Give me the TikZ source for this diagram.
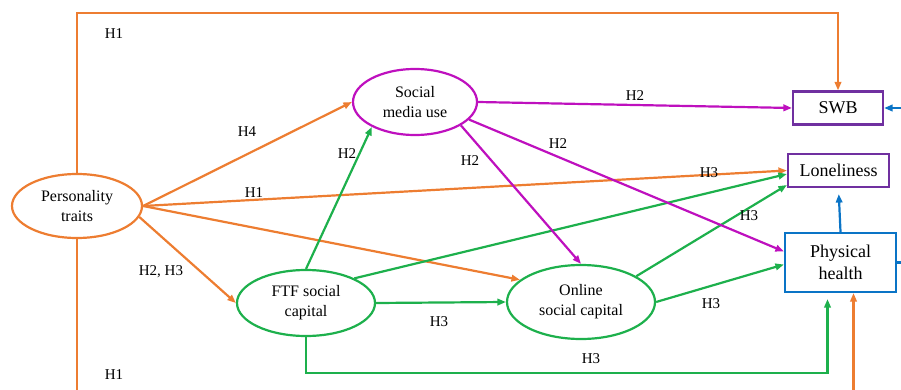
\documentclass[tikz,border=0pt]{standalone}
\usepackage{fontspec}
\setmainfont{Liberation Serif}
\usetikzlibrary{shapes.geometric,arrows.meta,calc}
\definecolor{traitorange}{HTML}{ED7D31}
\definecolor{capgreen}{HTML}{1DB04C}
\definecolor{smupurple}{HTML}{BE10BE}
\definecolor{boxpurple}{HTML}{7030A0}
\definecolor{healthblue}{HTML}{0A74C6}
\begin{document}
\begin{tikzpicture}[x=1pt,y=-1pt,
  link/.style={line width=2.2pt, -{Triangle[length=8.5pt,width=6.5pt]}},
  oval/.style={ellipse, draw, line width=2.2pt, inner sep=0pt, align=center,
    font=\fontsize{16}{20}\selectfont},
  outcome/.style={rectangle, draw, line width=2.2pt, inner sep=0pt, align=center,
    font=\fontsize{18}{22}\selectfont},
  hyp/.style={font=\fontsize{15}{18}\selectfont, inner sep=0pt}]
\useasboundingbox (0,0) rectangle (901,390);

% constructs
\node[oval, draw=traitorange, minimum width=130pt, minimum height=64pt] (pers) at (77,206) {Personality\\traits};
\node[oval, draw=smupurple, minimum width=124pt, minimum height=66pt] (smu) at (415,102) {Social\\media use};
\node[oval, draw=capgreen, minimum width=138pt, minimum height=66pt] (ftf) at (306,303) {FTF social\\capital};
\node[oval, draw=capgreen, minimum width=148pt, minimum height=74pt] (onl) at (581,302) {Online\\social capital};
\node[outcome, draw=boxpurple, minimum width=90pt, minimum height=33pt] (swb) at (838,108) {SWB};
\node[outcome, draw=boxpurple, minimum width=101pt, minimum height=33pt] (lone) at (838.5,170.5) {Loneliness};
\node[outcome, draw=healthblue, minimum width=111pt, minimum height=59pt] (ph) at (840.5,262.5) {Physical\\health};

% personality traits paths
\draw[link, traitorange] (pers.north) -- ++(0,-160) -| (swb.north);
\draw[link, traitorange] (pers.south) -- ++(0,200) -| ([xshift=13pt]ph.south);
\draw[link, traitorange] (pers.east) -- (smu.west);
\draw[link, traitorange] (pers.east) -- (lone.west);
\draw[link, traitorange] (pers.east) -- (onl.160);
\draw[link, traitorange] (pers.-10) -- (ftf.west);

% social capital paths
\draw[link, capgreen] (ftf.north) -- (smu.-150);
\draw[link, capgreen] (ftf.27) -- ([yshift=-3.5pt]lone.west);
\draw[link, capgreen] (ftf.east) -- (onl.west);
\draw[link, capgreen] (onl.25) -- ([yshift=-14.5pt]lone.west);
\draw[link, capgreen] (onl.east) -- ([yshift=-2pt]ph.west);
\draw[link, capgreen] (ftf.south) -- ++(0,36) -| ([xshift=-13pt,yshift=-6pt]ph.south);

% social media use paths
\draw[link, smupurple] (smu.east) -- (swb.west);
\draw[link, smupurple] (smu.-18) -- ([yshift=11pt]ph.west);
\draw[link, smupurple] (smu.-27) -- (onl.north);

% physical health paths
\draw[link, healthblue, shorten >=6pt] (ph.north) -- (lone.south);
\draw[link, healthblue] (ph.east) -- ++(20,0) |- (swb.east);

% hypothesis labels
\node[hyp] (l1) at (114,34) {H1};
\node[hyp] (l2) at (247,132) {H4};
\node[hyp] (l3) at (347,154) {H2};
\node[hyp] (l4) at (254,193) {H1};
\node[hyp] (l5) at (635,96) {H2};
\node[hyp] (l6) at (558,144) {H2};
\node[hyp] (l7) at (470,161) {H2};
\node[hyp] (l8) at (709,173) {H3};
\node[hyp] (l9) at (749,216) {H3};
\node[hyp] (l10) at (161,272) {H2, H3};
\node[hyp] (l11) at (439,322) {H3};
\node[hyp] (l12) at (711,304) {H3};
\node[hyp] (l13) at (591,359) {H3};
\node[hyp] (l14) at (114,375) {H1};
\end{tikzpicture}
\end{document}
